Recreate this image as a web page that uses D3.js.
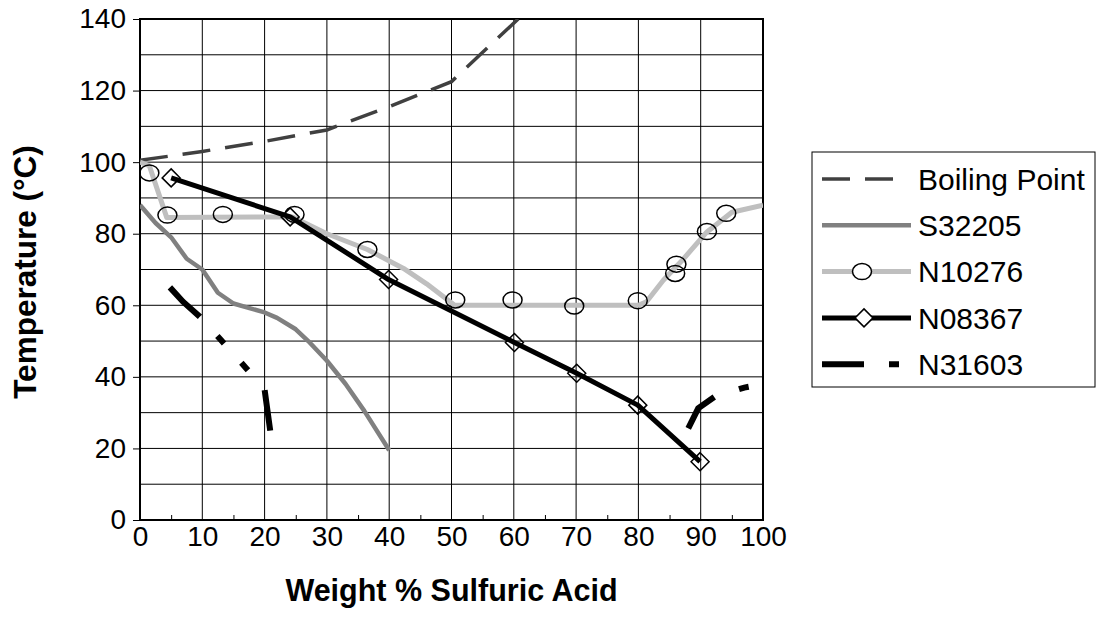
<!doctype html>
<html lang="en">
<head>
<meta charset="utf-8">
<title>Temperature vs Weight % Sulfuric Acid</title>
<style>
    body { margin: 0; background: #fff; }
    svg { display: block; font-family: "Liberation Sans", Arial, sans-serif; }
</style>
</head>
<body>
<div id="chart"></div>
<script src="https://d3js.org/d3.v7.min.js"></script>
<script>
// tick values
var xTicks = [0, 10, 20, 30, 40, 50, 60, 70, 80, 90, 100];
var yTicks = [0, 20, 40, 60, 80, 100, 120, 140];

// series names (legend order)
var seriesNames = ["Boiling Point", "S32205", "N10276", "N08367", "N31603"];

// data: [weight %, temperature]
var boilingPoint = [[0, 100.5], [10, 103], [20, 105.8], [30, 109], [40, 115.5], [50, 122.5], [60.7, 140]];

var s32205 = [[0, 88], [2.5, 83], [5, 79], [7.5, 73], [10, 70], [12.5, 63.5], [15, 60.5], [20, 58],
    [22, 56.5], [25, 53.3], [27, 50], [30, 44.5], [33, 38], [36, 30.5], [40, 19.5]];

var n10276Line = [[0, 100], [1.5, 99], [4.3, 84.5], [24.5, 84.7], [30, 80], [36.5, 75.6], [42.3, 70.3],
    [46, 66], [50.5, 60], [80, 60], [81.3, 61], [84, 67], [87, 72.5], [91, 80.5], [95, 86], [100, 88]];
var n10276Marks = [[1.5, 97], [4.4, 85.2], [13.3, 85.4], [24.8, 85.4], [36.5, 75.6], [50.6, 61.5],
    [59.8, 61.5], [69.7, 59.8], [79.9, 61.3], [85.9, 68.9], [86.1, 71.5], [91, 80.6], [94.1, 85.7]];

var n08367 = [[5, 95.6], [24.1, 84.7], [39.9, 67.2], [60.1, 49.6], [70.1, 41], [79.9, 32.1], [89.9, 16.3]];

var n31603a = [[4.8, 65], [6.9, 61], [9.6, 56.8], [13, 50.3], [17, 42.5], [20, 36.4], [20.9, 25]];
var n31603b = [[88, 25.6], [89.6, 31.2], [92.3, 34.5], [97, 37], [100, 38]];

var width = 1096, height = 639;
var mLeft = 140, mRight = 763, mTop = 19, mBottom = 520;

var x = d3.scaleLinear().domain([0, 100]).range([mLeft, mRight]);
var y = d3.scaleLinear().domain([0, 140]).range([mBottom, mTop]);

var svg = d3.select("#chart").append("svg")
    .attr("width", width)
    .attr("height", height);

// grid lines
svg.append("g").selectAll("line")
    .data(d3.range(10, 100, 10))
    .join("line")
    .attr("x1", d => x(d)).attr("x2", d => x(d))
    .attr("y1", mTop).attr("y2", mBottom)
    .attr("stroke", "#000").attr("stroke-width", 1);
svg.append("g").selectAll("line")
    .data(d3.range(10, 140, 10))
    .join("line")
    .attr("x1", mLeft).attr("x2", mRight)
    .attr("y1", d => y(d)).attr("y2", d => y(d))
    .attr("stroke", "#000").attr("stroke-width", 1);

// axes
var xAxis = svg.append("g")
    .attr("transform", "translate(0," + mBottom + ")")
    .call(d3.axisBottom(x).tickValues(xTicks).tickSize(0).tickPadding(6));
var xMinor = svg.append("g")
    .attr("transform", "translate(0," + mBottom + ")")
    .call(d3.axisTop(x).tickValues(d3.range(5, 100, 10)).tickSize(5).tickFormat(""));
var yAxis = svg.append("g")
    .attr("transform", "translate(" + mLeft + ",0)")
    .call(d3.axisLeft(y).tickValues(yTicks).tickSize(7).tickPadding(7));

[xAxis, xMinor, yAxis].forEach(function(g) {
    g.select(".domain").remove();
    g.selectAll("line").attr("stroke", "#000").attr("stroke-width", 1);
    g.selectAll("text").attr("font-size", 28).attr("fill", "#000")
        .attr("font-family", "'Liberation Sans', Arial, sans-serif");
});

// plot border
svg.append("rect")
    .attr("x", mLeft).attr("y", mTop)
    .attr("width", mRight - mLeft).attr("height", mBottom - mTop)
    .attr("fill", "none").attr("stroke", "#000").attr("stroke-width", 2);

svg.append("clipPath").attr("id", "plotclip")
    .append("rect").attr("x", mLeft).attr("y", mTop)
    .attr("width", mRight - mLeft).attr("height", mBottom - mTop);

var line = d3.line().x(d => x(d[0])).y(d => y(d[1]));
var plot = svg.append("g").attr("clip-path", "url(#plotclip)");

plot.append("path").attr("d", line(boilingPoint))
    .attr("fill", "none").attr("stroke", "#404040").attr("stroke-width", 3.5)
    .attr("stroke-dasharray", "28,15");

plot.append("path").attr("d", line(s32205))
    .attr("fill", "none").attr("stroke", "#808080").attr("stroke-width", 4.5)
    .attr("stroke-linejoin", "round");

plot.append("path").attr("d", line(n10276Line))
    .attr("fill", "none").attr("stroke", "#bfbfbf").attr("stroke-width", 5)
    .attr("stroke-linejoin", "round");

plot.append("path").attr("d", line(n08367))
    .attr("fill", "none").attr("stroke", "#000").attr("stroke-width", 5)
    .attr("stroke-linejoin", "round");

[n31603a, n31603b].forEach(function(seg) {
    plot.append("path").attr("d", line(seg))
        .attr("fill", "none").attr("stroke", "#000").attr("stroke-width", 6)
        .attr("stroke-dasharray", "42,26,10,26,10,26");
});

var diamond = "M0,-9L9,0L0,9L-9,0Z";

plot.selectAll(".circ").data(n10276Marks).join("ellipse")
    .attr("cx", d => x(d[0])).attr("cy", d => y(d[1]))
    .attr("rx", 9.5).attr("ry", 8)
    .attr("fill", "none").attr("stroke", "#000").attr("stroke-width", 1.5);

plot.selectAll(".diam").data(n08367).join("path")
    .attr("d", diamond)
    .attr("transform", d => "translate(" + x(d[0]) + "," + y(d[1]) + ")")
    .attr("fill", "none").attr("stroke", "#000").attr("stroke-width", 1.5);

// axis titles
svg.append("text")
    .attr("x", (mLeft + mRight) / 2).attr("y", 601)
    .attr("text-anchor", "middle")
    .attr("font-size", 30.5).attr("font-weight", "bold")
    .text("Weight % Sulfuric Acid");

svg.append("text")
    .attr("transform", "translate(36,272) rotate(-90)")
    .attr("text-anchor", "middle")
    .attr("font-size", 31.5).attr("font-weight", "bold")
    .text("Temperature (°C)");

// legend
var legend = svg.append("g");
legend.append("rect")
    .attr("x", 812).attr("y", 152).attr("width", 283).attr("height", 235)
    .attr("fill", "#fff").attr("stroke", "#000").attr("stroke-width", 1);

var styles = [
    {stroke: "#404040", w: 3.5, dash: "28,15", x2: 895},
    {stroke: "#808080", w: 4.5, dash: null, x2: 911},
    {stroke: "#bfbfbf", w: 5, dash: null, x2: 911},
    {stroke: "#000", w: 5, dash: null, x2: 911},
    {stroke: "#000", w: 6, dash: "42,25,10,100", x2: 911}
];

seriesNames.forEach(function(name, i) {
    var cy = 179 + i * 46.3;
    var s = styles[i];
    legend.append("line")
        .attr("x1", 822).attr("x2", s.x2).attr("y1", cy).attr("y2", cy)
        .attr("stroke", s.stroke).attr("stroke-width", s.w)
        .attr("stroke-dasharray", s.dash);
    if (name === "N10276") {
        legend.append("ellipse").attr("cx", 862).attr("cy", cy)
            .attr("rx", 9.5).attr("ry", 8)
            .attr("fill", "#fff").attr("stroke", "#000").attr("stroke-width", 1.5);
    }
    if (name === "N08367") {
        legend.append("path").attr("d", diamond)
            .attr("transform", "translate(864," + cy + ")")
            .attr("fill", "#fff").attr("stroke", "#000").attr("stroke-width", 1.5);
    }
    legend.append("text")
        .attr("x", 918).attr("y", cy).attr("dy", "0.36em")
        .attr("font-size", 30).attr("fill", "#000")
        .text(name);
});
</script>
</body>
</html>
